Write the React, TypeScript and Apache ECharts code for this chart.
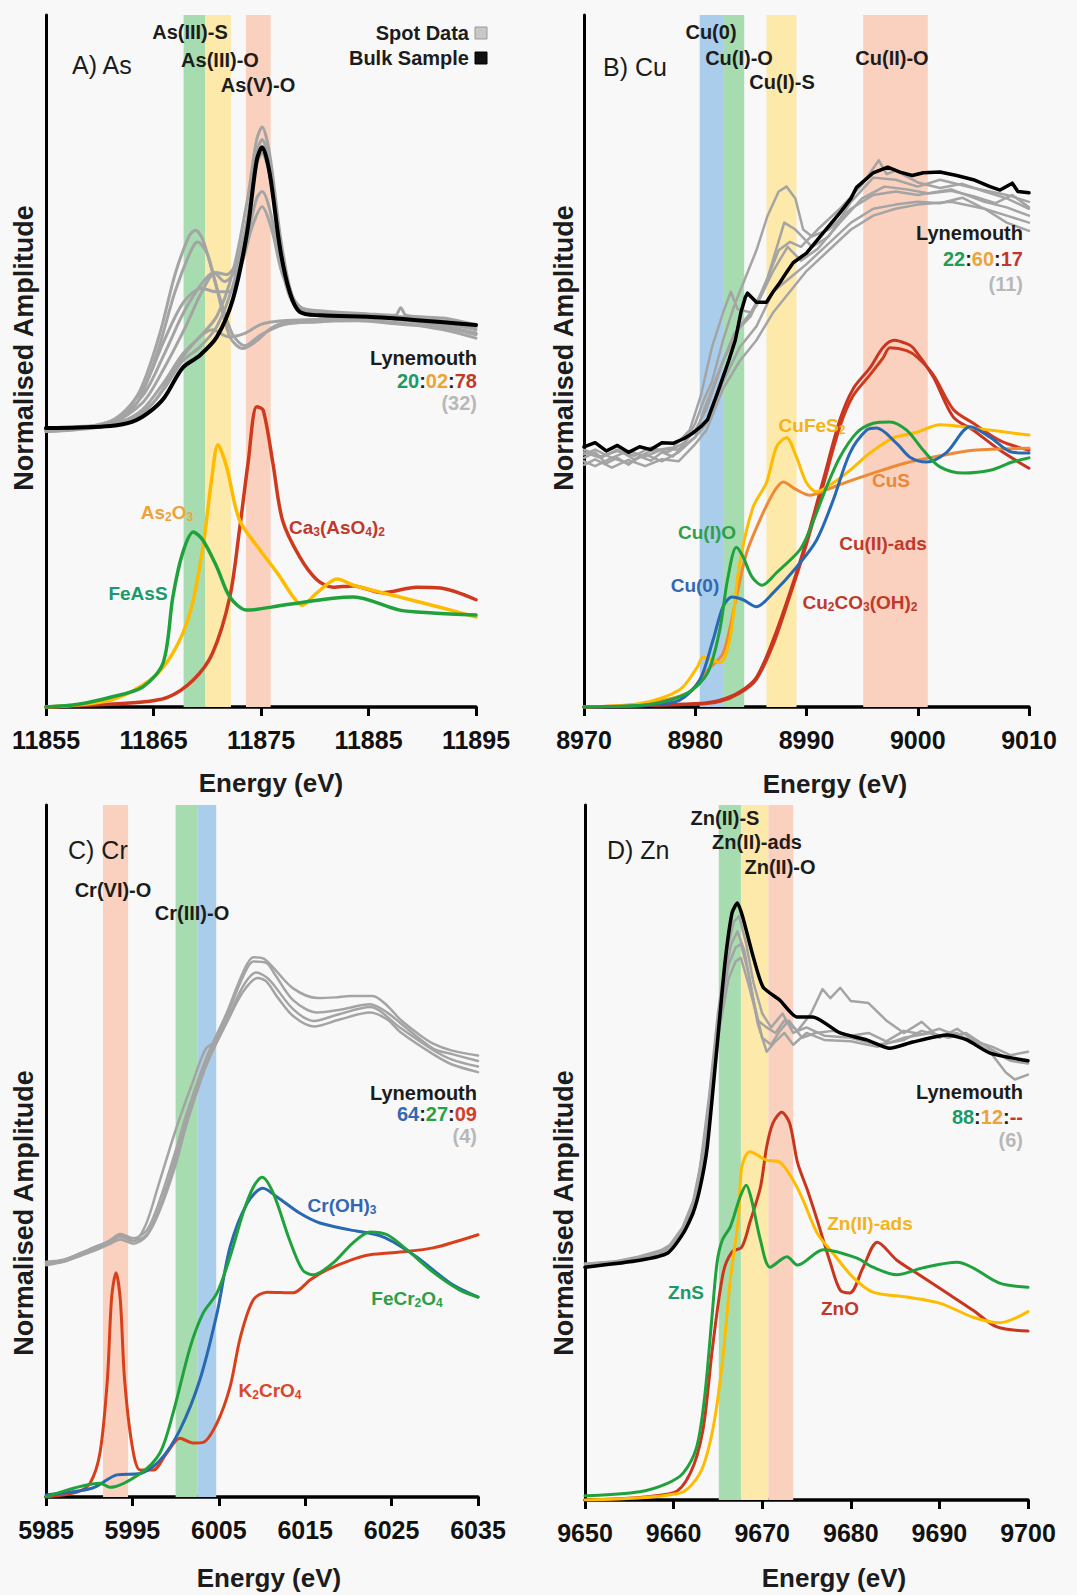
import React, { useEffect, useRef } from "react";
import * as echarts from "echarts";

const FONT = '"Liberation Sans", Arial, Helvetica, sans-serif';

// ---------- A) As K-edge ----------
const asTicks = [11855, 11865, 11875, 11885, 11895];
const asBandEdges = [[11867.8, 11869.8], [11869.8, 11872.2], [11873.6, 11875.9]];
const asSpot1 = [[11855,0.403],[11860,0.407],[11862,0.412],[11864,0.43],[11866,0.47],[11867.7,0.51],[11869.3,0.535],[11870.9,0.565],[11872.4,0.63],[11873.7,0.73],[11874.6,0.82],[11875.1,0.838],[11875.8,0.8],[11876.8,0.68],[11877.7,0.605],[11878.6,0.578],[11881,0.572],[11885,0.568],[11887.5,0.566],[11888,0.577],[11888.5,0.566],[11892,0.562],[11895,0.552]];
const asSpot2 = [[11855,0.4],[11861,0.41],[11864,0.44],[11866,0.49],[11868,0.55],[11869.5,0.6],[11870.8,0.628],[11871.8,0.625],[11872.8,0.645],[11873.8,0.71],[11874.6,0.785],[11875.1,0.8],[11875.8,0.77],[11876.8,0.665],[11877.7,0.6],[11879,0.572],[11885,0.567],[11890,0.56],[11895,0.548]];
const asSpot3 = [[11855,0.398],[11861,0.411],[11864,0.45],[11866,0.51],[11867.8,0.57],[11869.5,0.612],[11870.6,0.628],[11871.6,0.615],[11872.6,0.63],[11873.7,0.68],[11874.6,0.735],[11875.1,0.745],[11875.8,0.72],[11876.8,0.645],[11877.7,0.592],[11879,0.568],[11885,0.563],[11890,0.558],[11895,0.54]];
const asSpot4 = [[11855,0.4],[11861,0.413],[11864,0.46],[11866,0.53],[11867.8,0.585],[11869.5,0.605],[11870.8,0.6],[11872,0.6],[11873.2,0.64],[11874.2,0.695],[11875.1,0.723],[11876,0.69],[11877,0.625],[11878.5,0.58],[11880.5,0.568],[11885,0.563],[11890,0.56],[11895,0.545]];
const asSpot5 = [[11855,0.401],[11861,0.41],[11863.5,0.45],[11865.5,0.535],[11867,0.625],[11868.3,0.68],[11868.9,0.689],[11869.6,0.675],[11870.8,0.61],[11872.1,0.535],[11873.3,0.518],[11874.5,0.528],[11876,0.548],[11877.5,0.556],[11880,0.556],[11883,0.56],[11888,0.555],[11892,0.545],[11895,0.533]];
const asSpot6 = [[11855,0.398],[11861,0.408],[11863.5,0.44],[11865.5,0.52],[11867,0.6],[11868.5,0.66],[11869.1,0.672],[11870,0.655],[11871,0.6],[11872.3,0.54],[11873.5,0.522],[11875,0.538],[11877,0.552],[11880,0.557],[11884,0.558],[11888,0.553],[11892,0.548],[11895,0.54]];
const asSpot7 = [[11855,0.402],[11861,0.409],[11864,0.425],[11866,0.46],[11867.7,0.5],[11869.3,0.52],[11870.9,0.55],[11872.4,0.61],[11873.7,0.7],[11874.6,0.8],[11875.1,0.82],[11875.8,0.785],[11876.8,0.67],[11877.7,0.6],[11878.6,0.574],[11882,0.568],[11886,0.565],[11890,0.562],[11895,0.55]];
const asSpot8 = [[11855,0.4],[11862,0.41],[11865,0.44],[11867,0.49],[11869,0.53],[11870.5,0.545],[11872,0.535],[11873.5,0.54],[11875,0.553],[11877,0.558],[11880,0.56],[11885,0.562],[11890,0.555],[11895,0.538]];
const asBulk = [[11855,0.403],[11858,0.404],[11861,0.406],[11863,0.412],[11864.5,0.425],[11866,0.447],[11867.7,0.49],[11869.3,0.508],[11870.9,0.535],[11872.4,0.59],[11873.7,0.685],[11874.6,0.79],[11875.1,0.809],[11875.8,0.772],[11876.8,0.66],[11877.7,0.598],[11878.6,0.571],[11880.5,0.566],[11884.9,0.564],[11887,0.562],[11889.5,0.559],[11892,0.556],[11895,0.552]];
const feAsS = [[11855,0],[11858,0.004],[11861,0.014],[11864,0.029],[11865.9,0.064],[11866.8,0.159],[11867.7,0.222],[11868.7,0.253],[11869.6,0.241],[11870.9,0.202],[11872.1,0.159],[11873.7,0.14],[11877,0.147],[11881.7,0.157],[11883.6,0.159],[11887.9,0.14],[11891,0.136],[11895,0.133]];
const as2O3 = [[11855,0],[11861,0.01],[11864.7,0.039],[11866.8,0.078],[11868.4,0.136],[11869.6,0.231],[11870.4,0.328],[11871,0.379],[11871.8,0.347],[11873,0.27],[11874.9,0.227],[11876.5,0.194],[11878,0.159],[11878.8,0.147],[11880.2,0.165],[11882.1,0.185],[11883.6,0.176],[11887.9,0.159],[11891.9,0.143],[11895,0.13]];
const ca3AsO42 = [[11855,0],[11863.1,0.006],[11866.3,0.014],[11868.7,0.039],[11870.5,0.078],[11872.1,0.159],[11873,0.256],[11873.8,0.353],[11874.6,0.434],[11875.2,0.429],[11876.1,0.353],[11877,0.27],[11878.6,0.217],[11880.2,0.184],[11881.7,0.173],[11883.6,0.175],[11886.3,0.165],[11889.5,0.173],[11891.7,0.172],[11895,0.155]];

// ---------- B) Cu K-edge ----------
const cuTicks = [8970, 8980, 8990, 9000, 9010];
const cuBandEdges = [[8980.4, 8982.5], [8982.5, 8984.4], [8986.4, 8989.1], [8995.1, 9000.9]];
const cuSpot1 = [[8970,0.36],[8971,0.368],[8972,0.352],[8973,0.36],[8974,0.35],[8975,0.362],[8976,0.356],[8977,0.368],[8978,0.362],[8979,0.38],[8980,0.41],[8980.8,0.445],[8981.5,0.47],[8982.5,0.53],[8983.5,0.58],[8984.5,0.62],[8985.5,0.66],[8986.5,0.71],[8987.5,0.745],[8988.2,0.752],[8989,0.735],[8989.7,0.69],[8990.5,0.68],[8992,0.69],[8994,0.72],[8996,0.74],[8998,0.745],[9000,0.74],[9003,0.748],[9006,0.73],[9008,0.722],[9010,0.71]];
const cuSpot2 = [[8970,0.368],[8971.5,0.36],[8973,0.372],[8974.5,0.358],[8976,0.37],[8978,0.375],[8979.5,0.4],[8980.5,0.45],[8981.5,0.52],[8982.5,0.57],[8983.2,0.6],[8983.8,0.575],[8985,0.57],[8986,0.6],[8987.5,0.66],[8988.5,0.672],[8989.5,0.665],[8991,0.69],[8993,0.72],[8995,0.755],[8996.5,0.79],[8997.2,0.77],[8998,0.775],[9000,0.758],[9002,0.75],[9004,0.756],[9006,0.745],[9008,0.735],[9010,0.72]];
const cuSpot3 = [[8970,0.355],[8971,0.348],[8972.5,0.36],[8974,0.352],[8975.5,0.365],[8977,0.355],[8978.5,0.368],[8980,0.39],[8981,0.41],[8982.5,0.47],[8984,0.52],[8985.5,0.55],[8987,0.6],[8988.5,0.62],[8990,0.64],[8992,0.67],[8994,0.7],[8996,0.72],[8998,0.726],[9000,0.73],[9002,0.728],[9004,0.736],[9006,0.72],[9008,0.7],[9010,0.688]];
const cuSpot4 = [[8970,0.372],[8971.5,0.362],[8973,0.37],[8974.5,0.363],[8976,0.375],[8977.5,0.368],[8979,0.382],[8980,0.4],[8981,0.43],[8982.5,0.5],[8984,0.55],[8985.5,0.58],[8987,0.63],[8988.3,0.665],[8989.5,0.645],[8991,0.662],[8993,0.7],[8995,0.735],[8997,0.752],[8999,0.748],[9001,0.742],[9003,0.746],[9005,0.738],[9007,0.728],[9008.5,0.74],[9010,0.722]];
const cuSpot5 = [[8970,0.35],[8971,0.358],[8972.5,0.346],[8974,0.357],[8975.5,0.348],[8977,0.358],[8978.5,0.355],[8980,0.38],[8981,0.4],[8982.5,0.46],[8984,0.5],[8985.5,0.53],[8987,0.57],[8988.5,0.6],[8990,0.63],[8992,0.66],[8994,0.69],[8996,0.71],[8998,0.72],[9000,0.726],[9003,0.73],[9006,0.72],[9008,0.71],[9010,0.7]];
const cuSpot6 = [[8970,0.365],[8971,0.372],[8972.5,0.36],[8974,0.37],[8975.5,0.362],[8977,0.372],[8978.5,0.372],[8980,0.39],[8980.8,0.43],[8982,0.48],[8983.5,0.54],[8985,0.565],[8986.5,0.62],[8988,0.7],[8989,0.69],[8990.5,0.665],[8992,0.68],[8994,0.73],[8996,0.765],[8998,0.762],[9000,0.752],[9002,0.762],[9005,0.75],[9008,0.74],[9010,0.73]];
const cuBulk = [[8970,0.376],[8971,0.382],[8972,0.37],[8973,0.378],[8974,0.368],[8975,0.376],[8976,0.372],[8977,0.382],[8978,0.381],[8979,0.388],[8979.8,0.396],[8980.5,0.405],[8981.1,0.415],[8982,0.454],[8983,0.5],[8983.6,0.53],[8984.1,0.57],[8984.5,0.592],[8984.7,0.598],[8985.5,0.585],[8986.4,0.585],[8987,0.6],[8987.6,0.613],[8988.2,0.628],[8988.8,0.642],[8990,0.656],[8991.5,0.685],[8993,0.714],[8994,0.735],[8994.5,0.751],[8996,0.772],[8997.3,0.78],[8998.4,0.773],[8999.5,0.768],[9000.5,0.772],[9002,0.773],[9003.5,0.768],[9005,0.762],[9006.5,0.752],[9007.4,0.747],[9008.5,0.757],[9009,0.745],[9010,0.743]];
const cu0 = [[8970,0],[8976,0.003],[8978.6,0.01],[8980.4,0.039],[8981.6,0.097],[8982.5,0.145],[8983.3,0.159],[8984.3,0.155],[8985.5,0.145],[8987,0.165],[8989.1,0.202],[8990.9,0.241],[8992.4,0.299],[8993.9,0.367],[8995.4,0.4],[8996.3,0.403],[8998.1,0.381],[8999.3,0.361],[9000.8,0.354],[9002.6,0.368],[9004.7,0.405],[9006.5,0.39],[9008.5,0.368],[9010,0.367]];
const cuIO = [[8970,0],[8976,0.004],[8979.3,0.02],[8981.1,0.049],[8982.2,0.111],[8982.9,0.184],[8983.7,0.231],[8984.3,0.217],[8985.1,0.188],[8986,0.176],[8987.3,0.194],[8989.4,0.227],[8990.3,0.256],[8991.8,0.318],[8993,0.361],[8994.5,0.396],[8996,0.41],[8997.5,0.412],[8999,0.4],[9000.5,0.371],[9002,0.347],[9004.1,0.338],[9006.5,0.342],[9008.5,0.354],[9010,0.36]];
const cuFeS2 = [[8970,0],[8975,0.005],[8978.6,0.025],[8980.2,0.058],[8980.7,0.072],[8982.2,0.064],[8983.1,0.097],[8984,0.208],[8985.2,0.289],[8986.4,0.324],[8987.3,0.376],[8988.2,0.389],[8989.1,0.361],[8990,0.324],[8990.9,0.311],[8992.4,0.324],[8993.9,0.342],[8995.7,0.367],[8997.8,0.389],[8999.9,0.397],[9002,0.408],[9005,0.403],[9010,0.393]];
const cuS = [[8970,0],[8975,0.004],[8979.3,0.02],[8981.1,0.053],[8982.5,0.078],[8983.7,0.159],[8984.6,0.222],[8985.8,0.27],[8987,0.309],[8987.9,0.325],[8989.1,0.314],[8990.3,0.306],[8991.8,0.314],[8993.6,0.325],[8996,0.338],[8999,0.353],[9002,0.363],[9005,0.371],[9010,0.374]];
const cuIIads = [[8970,0],[8980,0.005],[8982.2,0.01],[8984,0.022],[8985.5,0.043],[8987,0.097],[8988.5,0.165],[8990,0.241],[8991.5,0.328],[8993,0.415],[8994.2,0.46],[8995.7,0.49],[8996.9,0.52],[8997.9,0.53],[8999,0.525],[8999.6,0.519],[9001.4,0.477],[9003.2,0.419],[9005,0.4],[9007.4,0.371],[9010,0.345]];
const cu2CO3OH2 = [[8970,0],[8980,0.004],[8982.2,0.008],[8984,0.02],[8985.5,0.04],[8987,0.09],[8988.5,0.16],[8990,0.235],[8991.5,0.32],[8993,0.405],[8994.2,0.45],[8995.7,0.48],[8996.9,0.505],[8997.5,0.519],[8999,0.515],[9000,0.505],[9001.4,0.48],[9003.2,0.43],[9005,0.41],[9007.4,0.385],[9010,0.371]];

// ---------- C) Cr K-edge ----------
const crTicks = [5985, 5995, 6005, 6015, 6025, 6035];
const crBandEdges = [[5991.6, 5994.5], [6000, 6002.5], [6002.5, 6004.7]];
const crSpot1 = [[5985,0.34],[5987,0.343],[5989.3,0.354],[5991,0.362],[5992.4,0.371],[5993.6,0.38],[5995.1,0.374],[5996.7,0.386],[5998.2,0.43],[6000,0.5],[6001.3,0.555],[6003.6,0.636],[6005.9,0.699],[6007.8,0.758],[6009,0.78],[6010.2,0.778],[6011.3,0.765],[6013.6,0.735],[6016.4,0.721],[6018.5,0.722],[6020.2,0.724],[6022.8,0.724],[6024.5,0.71],[6026,0.69],[6028,0.67],[6029.8,0.655],[6032,0.645],[6035,0.638]];
const crSpot2 = [[5985,0.338],[5987,0.34],[5989.3,0.352],[5991,0.36],[5992.4,0.368],[5993.6,0.376],[5995.1,0.37],[5996.7,0.38],[5998.2,0.42],[6000,0.49],[6001.3,0.545],[6003.6,0.63],[6005.9,0.695],[6007.8,0.752],[6009,0.774],[6010.5,0.772],[6011.5,0.755],[6013.6,0.718],[6016.4,0.7],[6019,0.704],[6022.5,0.712],[6024.5,0.7],[6026,0.685],[6029.8,0.648],[6032,0.64],[6035,0.63]];
const crSpot3 = [[5985,0.335],[5987,0.34],[5989.3,0.35],[5991,0.358],[5992.4,0.366],[5993.6,0.372],[5995.1,0.366],[5996.7,0.378],[5998.2,0.415],[6000,0.48],[6001.3,0.54],[6003.6,0.625],[6005.9,0.685],[6007.8,0.73],[6009.5,0.75],[6010.5,0.745],[6011.8,0.722],[6013.6,0.695],[6016,0.68],[6019,0.69],[6022.5,0.7],[6024.5,0.69],[6026,0.672],[6029.8,0.64],[6032,0.625],[6035,0.614]];
const crSpot4 = [[5985,0.338],[5988,0.345],[5990,0.358],[5992.4,0.37],[5993.6,0.378],[5995.1,0.37],[5996.5,0.392],[5998,0.45],[6000,0.53],[6002,0.6],[6003.5,0.648],[6004.8,0.66],[6006.3,0.7],[6008,0.742],[6009.3,0.758],[6010.8,0.748],[6013.6,0.705],[6016,0.688],[6019,0.698],[6022.5,0.708],[6026,0.678],[6029.8,0.646],[6032,0.632],[6035,0.622]];
const k2CrO4 = [[5985,0],[5988.6,0.007],[5990.1,0.02],[5991.25,0.064],[5992.1,0.169],[5992.6,0.289],[5993.1,0.324],[5993.6,0.285],[5994.1,0.169],[5995,0.072],[5995.9,0.039],[5997.4,0.039],[5999,0.064],[6000.5,0.085],[6002,0.078],[6003.2,0.079],[6004.8,0.107],[6006.3,0.159],[6007.5,0.231],[6009,0.285],[6010.6,0.296],[6013.6,0.295],[6015.6,0.314],[6017.5,0.328],[6020.2,0.342],[6022.5,0.35],[6026,0.354],[6029.8,0.36],[6035,0.379]];
const crOH3 = [[5985,0.003],[5990.4,0.013],[5993.2,0.032],[5995.9,0.034],[5998.2,0.053],[6000.5,0.097],[6002.8,0.169],[6004.8,0.266],[6006.3,0.361],[6008.3,0.425],[6010.1,0.446],[6011.7,0.434],[6014.4,0.41],[6016.7,0.396],[6020.2,0.386],[6024,0.376],[6027.9,0.347],[6031.8,0.309],[6035,0.289]];
const feCr2O4 = [[5985,0],[5991.25,0.02],[5992.4,0.014],[5995.9,0.034],[5998.2,0.064],[5999.7,0.121],[6001.7,0.217],[6003.2,0.266],[6004.8,0.295],[6006.3,0.347],[6007.8,0.41],[6009,0.448],[6010,0.462],[6011.3,0.439],[6013.2,0.371],[6014.7,0.328],[6015.9,0.321],[6018.2,0.338],[6020.5,0.367],[6022.5,0.383],[6024.5,0.379],[6026.8,0.357],[6029.8,0.325],[6032.9,0.299],[6035,0.289]];

// ---------- D) Zn K-edge ----------
const znTicks = [9650, 9660, 9670, 9680, 9690, 9700];
const znBandEdges = [[9665.1, 9667.6], [9667.6, 9670.7], [9670.7, 9673.5]];
const znSpot1 = [[9650,0.34],[9653,0.342],[9656,0.35],[9659.3,0.362],[9661,0.392],[9662.2,0.43],[9663,0.48],[9664,0.58],[9665,0.7],[9666,0.79],[9666.8,0.832],[9667.4,0.84],[9668.2,0.8],[9669,0.745],[9670,0.7],[9671,0.68],[9672.3,0.7],[9673.5,0.672],[9675,0.68],[9677,0.668],[9680,0.665],[9683,0.655],[9686,0.662],[9688,0.675],[9690,0.668],[9692,0.672],[9694,0.655],[9696,0.645],[9698,0.632],[9700,0.628]];
const znSpot2 = [[9650,0.338],[9654,0.343],[9657,0.35],[9659.5,0.36],[9661,0.39],[9662.2,0.425],[9663.2,0.48],[9664.2,0.59],[9665.2,0.7],[9666.2,0.77],[9667,0.795],[9667.6,0.8],[9668.5,0.755],[9669.5,0.685],[9670.5,0.645],[9671.5,0.66],[9672.5,0.672],[9673.5,0.655],[9675,0.672],[9677,0.662],[9680,0.66],[9683,0.652],[9686,0.665],[9689,0.672],[9691,0.665],[9693,0.672],[9695,0.655],[9697,0.64],[9700,0.63]];
const znSpot3 = [[9650,0.336],[9654,0.34],[9657,0.348],[9659.5,0.358],[9661,0.386],[9662.2,0.42],[9663.2,0.47],[9664.2,0.575],[9665.2,0.68],[9666.2,0.75],[9667,0.775],[9667.6,0.78],[9668.5,0.74],[9669.5,0.69],[9670.5,0.68],[9671.5,0.672],[9672.5,0.69],[9674,0.675],[9675.5,0.7],[9676.8,0.735],[9677.7,0.722],[9678.8,0.737],[9680,0.718],[9682,0.715],[9684,0.69],[9686,0.672],[9688,0.688],[9690,0.665],[9692,0.678],[9694,0.66],[9696,0.64],[9697.5,0.615],[9698.5,0.605],[9700,0.612]];
const znSpot4 = [[9650,0.34],[9655,0.345],[9658,0.355],[9660,0.37],[9661.5,0.4],[9662.5,0.44],[9663.5,0.52],[9664.5,0.63],[9665.5,0.74],[9666.5,0.8],[9667.2,0.818],[9668,0.79],[9669,0.72],[9670,0.665],[9671,0.655],[9672,0.675],[9673,0.69],[9674.5,0.665],[9676,0.672],[9678,0.675],[9680,0.668],[9682,0.672],[9684,0.66],[9686,0.675],[9688,0.67],[9690,0.678],[9692,0.668],[9694,0.66],[9696,0.652],[9698,0.64],[9700,0.645]];
const znBulk = [[9650,0.335],[9656.2,0.345],[9659.3,0.355],[9661.1,0.384],[9662.2,0.413],[9663,0.45],[9663.8,0.508],[9664.9,0.652],[9665.8,0.773],[9666.6,0.845],[9667.2,0.859],[9667.8,0.839],[9669,0.781],[9670.1,0.738],[9672,0.719],[9673.9,0.695],[9675.7,0.695],[9678.8,0.672],[9681.8,0.662],[9684.4,0.65],[9687,0.659],[9690.9,0.669],[9693.1,0.662],[9695.7,0.643],[9700,0.632]];
const znS = [[9650,0.006],[9656.2,0.012],[9659.3,0.024],[9661.1,0.039],[9662.6,0.076],[9663.5,0.148],[9664.3,0.259],[9664.9,0.341],[9665.5,0.374],[9666.4,0.393],[9667.5,0.436],[9668.2,0.453],[9668.8,0.432],[9669.8,0.374],[9670.9,0.335],[9672.8,0.35],[9674,0.338],[9676.9,0.36],[9680.7,0.348],[9682.5,0.335],[9685.2,0.324],[9688.1,0.334],[9692,0.342],[9693.8,0.334],[9696.8,0.312],[9700,0.306]];
const znO = [[9650,0],[9659.9,0.01],[9661.9,0.039],[9663.3,0.1],[9664.4,0.22],[9665.6,0.327],[9666.6,0.357],[9667.7,0.364],[9668.6,0.399],[9669.8,0.45],[9670.5,0.508],[9671.2,0.542],[9672.2,0.558],[9673.1,0.542],[9674,0.485],[9675.1,0.446],[9676.2,0.403],[9677.7,0.341],[9678.8,0.302],[9679.9,0.298],[9681.4,0.335],[9683,0.371],[9685.2,0.345],[9688.1,0.321],[9691.2,0.295],[9693.8,0.273],[9696.5,0.249],[9700,0.243]];
const znIIads = [[9650,0],[9660.7,0.01],[9663,0.039],[9664.4,0.1],[9665.5,0.197],[9666.4,0.317],[9667.3,0.403],[9667.7,0.479],[9668.6,0.501],[9670.5,0.489],[9672,0.486],[9673.5,0.46],[9674.6,0.432],[9676.2,0.384],[9678,0.355],[9680.2,0.321],[9682.5,0.299],[9686.3,0.292],[9690.1,0.283],[9693.8,0.263],[9696.8,0.255],[9700,0.271]];

// ---------- colours ----------
const C = {
  gray: "#a4a4a4",
  black: "#000000",
  green: "#1fa23c",
  yellow: "#ffbb00",
  red: "#cf3a1e",
  blue: "#2968b3",
  orange: "#ee8a36",
  bandGreen: "#a7dcb1",
  bandYellow: "#fde9aa",
  bandPink: "#f9d1be",
  bandBlue: "#a9cdeb",
  txt: "#1c1c1c",
  tGreen: "#1a9a6a",
  tGreen2: "#2ca048",
  tOrange: "#eca33a",
  tYellow: "#f2b418",
  tRed: "#c0392b",
  tBlue: "#3367b0",
  tGray: "#b8b8b8",
};

const grids = [
  { left: 46, top: 15, width: 430, height: 692 },
  { left: 584, top: 15, width: 445, height: 692 },
  { left: 46, top: 805, width: 432, height: 692 },
  { left: 585, top: 805, width: 443, height: 695 },
];

function xAxis(gi: number, ticks: number[]) {
  return {
    type: "value",
    gridIndex: gi,
    min: ticks[0],
    max: ticks[ticks.length - 1],
    axisLine: { show: true, onZero: false, lineStyle: { color: "#000", width: 3.5 } },
    axisTick: { show: true, inside: false, length: 9, customValues: ticks, lineStyle: { color: "#000", width: 3 } },
    axisLabel: {
      show: true,
      customValues: ticks,
      formatter: (v: number) => String(v),
      margin: 20,
      fontSize: 25,
      fontWeight: "bold",
      color: "#111",
      fontFamily: FONT,
    },
    splitLine: { show: false },
  };
}

function yAxis(gi: number) {
  return {
    type: "value",
    gridIndex: gi,
    min: 0,
    max: 1,
    axisLine: { show: true, onZero: false, lineStyle: { color: "#000", width: 3 } },
    axisTick: { show: false },
    axisLabel: { show: false },
    splitLine: { show: false },
  };
}

function bandSeries(gi: number, edges: number[][], colors: string[]) {
  return {
    type: "line",
    xAxisIndex: gi,
    yAxisIndex: gi,
    data: [],
    silent: true,
    z: 1,
    markArea: {
      silent: true,
      data: edges.map((e, i) => [
        { xAxis: e[0], itemStyle: { color: colors[i], opacity: 1 } },
        { xAxis: e[1] },
      ]),
    },
  };
}

function line(gi: number, data: number[][], color: string, width: number, z = 3, smooth: number | boolean = 0.3) {
  return {
    type: "line",
    xAxisIndex: gi,
    yAxisIndex: gi,
    data,
    smooth,
    showSymbol: false,
    symbol: "none",
    silent: true,
    z,
    lineStyle: { color, width, cap: "round", join: "round" },
  };
}

function text(x: number, y: number, t: string, o: any = {}) {
  return {
    type: "text",
    x,
    y,
    z: 100,
    silent: true,
    rotation: o.rotation || 0,
    style: {
      text: t,
      fill: o.color || C.txt,
      fontSize: o.size || 20,
      fontWeight: o.weight || "bold",
      fontFamily: FONT,
      textAlign: o.align || "center",
      textVerticalAlign: "middle",
    },
  };
}

// text with subscripts written as "As_2O_3"
function chem(x: number, y: number, t: string, color: string, size = 19) {
  const parts = t.split(/(_\d)/).filter((p) => p.length);
  const s = parts.map((p) => (p[0] === "_" ? `{s|${p.slice(1)}}` : `{m|${p}}`)).join("");
  return {
    type: "text",
    x,
    y,
    z: 100,
    silent: true,
    style: {
      text: s,
      textAlign: "center",
      textVerticalAlign: "middle",
      rich: {
        m: { fontSize: size, fontWeight: "bold", fontFamily: FONT, fill: color, color, lineHeight: 22 },
        s: { fontSize: 12, fontWeight: "bold", fontFamily: FONT, fill: color, color, lineHeight: 12, verticalAlign: "bottom" },
      },
    },
  };
}

function ratio(x: number, y: number, vals: string[], colors: string[]) {
  const keys = ["a", "b", "c"];
  const s = vals.map((v, i) => `{${keys[i]}|${v}}`).join("{k|:}");
  const rich: any = { k: { fontSize: 20, fontWeight: "bold", fontFamily: FONT, fill: C.txt, color: C.txt } };
  keys.forEach((k, i) => {
    rich[k] = { fontSize: 20, fontWeight: "bold", fontFamily: FONT, fill: colors[i], color: colors[i] };
  });
  return { type: "text", x, y, z: 100, silent: true, style: { text: s, textAlign: "right", textVerticalAlign: "middle", rich } };
}

function buildOption() {
  const series: any[] = [];
  // A
  series.push(bandSeries(0, asBandEdges, [C.bandGreen, C.bandYellow, C.bandPink]));
  [asSpot8, asSpot6, asSpot5, asSpot4, asSpot3, asSpot2, asSpot7, asSpot1].forEach((d) => series.push(line(0, d, C.gray, 3, 2)));
  series.push(line(0, asBulk, C.black, 4, 4));
  series.push(line(0, ca3AsO42, C.red, 3.5));
  series.push(line(0, as2O3, C.yellow, 3.5));
  series.push(line(0, feAsS, C.green, 3.5));
  // B
  series.push(bandSeries(1, cuBandEdges, [C.bandBlue, C.bandGreen, C.bandYellow, C.bandPink]));
  [cuSpot5, cuSpot3, cuSpot4, cuSpot6, cuSpot2, cuSpot1].forEach((d) => series.push(line(1, d, C.gray, 2.5, 2, false)));
  series.push(line(1, cuBulk, C.black, 3.5, 4, false));
  series.push(line(1, cu2CO3OH2, C.red, 3));
  series.push(line(1, cuIIads, "#c83520", 3));
  series.push(line(1, cuS, C.orange, 3));
  series.push(line(1, cuFeS2, C.yellow, 3));
  series.push(line(1, cu0, C.blue, 3));
  series.push(line(1, cuIO, C.green, 3));
  // C
  series.push(bandSeries(2, crBandEdges, [C.bandPink, C.bandGreen, C.bandBlue]));
  [crSpot3, crSpot2, crSpot4, crSpot1].forEach((d) => series.push(line(2, d, C.gray, 2.5, 2)));
  series.push(line(2, k2CrO4, "#d8401c", 3));
  series.push(line(2, crOH3, C.blue, 3));
  series.push(line(2, feCr2O4, C.green, 3));
  // D
  series.push(bandSeries(3, znBandEdges, [C.bandGreen, C.bandYellow, C.bandPink]));
  [znSpot3, znSpot2, znSpot4, znSpot1].forEach((d) => series.push(line(3, d, C.gray, 2.5, 2, false)));
  series.push(line(3, znBulk, C.black, 3.5, 4, 0.2));
  series.push(line(3, znO, "#c8371d", 3));
  series.push(line(3, znIIads, C.yellow, 3));
  series.push(line(3, znS, C.green, 3));

  const g: any[] = [];
  // axis titles
  [[24, 348], [564, 348], [24, 1213], [564, 1213]].forEach(([x, y]) =>
    g.push(text(x, y, "Normalised Amplitude", { size: 27, rotation: Math.PI / 2 }))
  );
  [[271, 783], [835, 784], [269, 1578], [834, 1578]].forEach(([x, y]) => g.push(text(x, y, "Energy (eV)", { size: 26 })));

  // A
  g.push(text(72, 65, "A) As", { size: 25, weight: "normal", align: "left" }));
  g.push(text(190, 32, "As(III)-S"));
  g.push(text(220, 60, "As(III)-O"));
  g.push(text(258, 85, "As(V)-O"));
  g.push(text(469, 33, "Spot Data", { align: "right" }));
  g.push(text(469, 58, "Bulk Sample", { align: "right" }));
  g.push({ type: "rect", z: 100, silent: true, shape: { x: 475, y: 27, width: 12, height: 12 }, style: { fill: "#c8c8c8", stroke: "#9a9a9a", lineWidth: 1 } });
  g.push({ type: "rect", z: 100, silent: true, shape: { x: 475, y: 52, width: 12, height: 12 }, style: { fill: "#111", stroke: "#000", lineWidth: 1 } });
  g.push(text(477, 358, "Lynemouth", { align: "right" }));
  g.push(ratio(477, 381, ["20", "02", "78"], [C.tGreen, C.tOrange, C.tRed]));
  g.push(text(477, 403, "(32)", { align: "right", color: C.tGray }));
  g.push(chem(167, 512, "As_2O_3", C.tOrange));
  g.push(chem(337, 527, "Ca_3(AsO_4)_2", C.tRed));
  g.push(chem(138, 593, "FeAsS", C.tGreen));

  // B
  g.push(text(603, 67, "B) Cu", { size: 25, weight: "normal", align: "left" }));
  g.push(text(711, 32, "Cu(0)"));
  g.push(text(739, 58, "Cu(I)-O"));
  g.push(text(782, 82, "Cu(I)-S"));
  g.push(text(892, 58, "Cu(II)-O"));
  g.push(text(1023, 233, "Lynemouth", { align: "right" }));
  g.push(ratio(1023, 259, ["22", "60", "17"], ["#1f9d55", C.tOrange, C.tRed]));
  g.push(text(1023, 284, "(11)", { align: "right", color: C.tGray }));
  g.push(chem(812, 425, "CuFeS_2", C.tYellow));
  g.push(chem(891, 480, "CuS", "#e8893a"));
  g.push(chem(707, 532, "Cu(I)O", C.tGreen2));
  g.push(chem(883, 543, "Cu(II)-ads", C.tRed));
  g.push(chem(695, 585, "Cu(0)", C.tBlue));
  g.push(chem(860, 602, "Cu_2CO_3(OH)_2", C.tRed));

  // C
  g.push(text(68, 850, "C) Cr", { size: 25, weight: "normal", align: "left" }));
  g.push(text(113, 890, "Cr(VI)-O"));
  g.push(text(192, 913, "Cr(III)-O"));
  g.push(text(477, 1093, "Lynemouth", { align: "right" }));
  g.push(ratio(477, 1114, ["64", "27", "09"], [C.tBlue, "#27a047", "#d0402b"]));
  g.push(text(477, 1136, "(4)", { align: "right", color: C.tGray }));
  g.push(chem(342, 1205, "Cr(OH)_3", C.tBlue));
  g.push(chem(407, 1298, "FeCr_2O_4", C.tGreen2));
  g.push(chem(270, 1390, "K_2CrO_4", "#d9482a"));

  // D
  g.push(text(607, 850, "D) Zn", { size: 25, weight: "normal", align: "left" }));
  g.push(text(725, 818, "Zn(II)-S"));
  g.push(text(757, 842, "Zn(II)-ads"));
  g.push(text(780, 867, "Zn(II)-O"));
  g.push(text(1023, 1092, "Lynemouth", { align: "right" }));
  g.push(ratio(1023, 1117, ["88", "12", "--"], [C.tGreen, C.tOrange, C.tRed]));
  g.push(text(1023, 1140, "(6)", { align: "right", color: C.tGray }));
  g.push(chem(870, 1223, "Zn(II)-ads", C.tYellow));
  g.push(chem(686, 1292, "ZnS", C.tGreen));
  g.push(chem(840, 1308, "ZnO", C.tRed));

  return {
    animation: false,
    backgroundColor: "#f8f8f8",
    grid: grids,
    xAxis: [xAxis(0, asTicks), xAxis(1, cuTicks), xAxis(2, crTicks), xAxis(3, znTicks)],
    yAxis: [yAxis(0), yAxis(1), yAxis(2), yAxis(3)],
    series,
    graphic: g,
  };
}

export default function App() {
  const ref = useRef<HTMLDivElement>(null);
  useEffect(() => {
    const chart = echarts.init(ref.current!, null, { renderer: "svg" });
    chart.setOption(buildOption() as any);
    return () => chart.dispose();
  }, []);
  return <div ref={ref} style={{ position: "absolute", left: 0, top: 0, width: 1077, height: 1595 }} />;
}
